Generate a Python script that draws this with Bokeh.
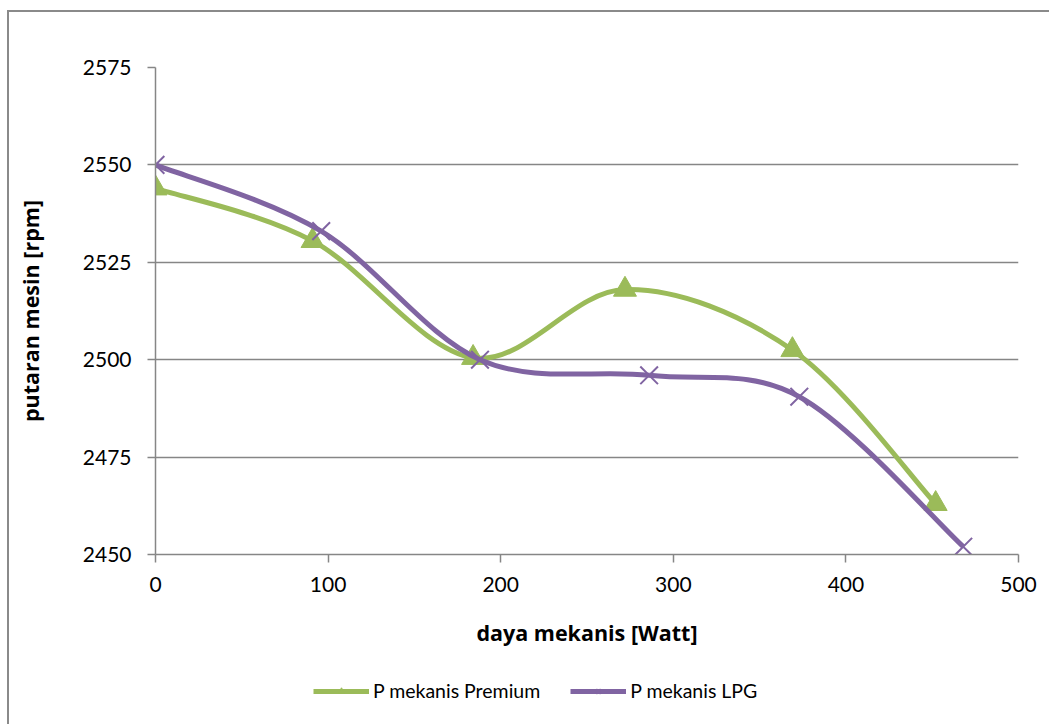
from bokeh.plotting import figure
from bokeh.layouts import column
from bokeh.models import ColumnDataSource, Legend, LegendItem, FixedTicker
from bokeh.embed import file_html
from bokeh.resources import INLINE

# data
premium_x = [0, 91, 184, 272, 369, 452]
premium_y = [2544, 2530.5, 2500.5, 2518, 2502.5, 2463]
lpg_x = [0, 96, 188, 286, 373, 468]
lpg_y = [2550, 2533, 2500, 2496, 2490.5, 2452]

x_ticks = [0, 100, 200, 300, 400, 500]
y_ticks = [2450, 2475, 2500, 2525, 2550, 2575]

GREEN = "#9BBB59"
PURPLE = "#8064A2"
FONT = "Lato"
LABEL_FONT = "Open Sans"


def smooth_segments(xs, ys):
    """Bezier control points (Catmull-Rom style, as spreadsheet smoothed lines)."""
    n = len(xs)
    d = dict(x0=[], y0=[], x1=[], y1=[], cx0=[], cy0=[], cx1=[], cy1=[])
    for i in range(n - 1):
        p0 = (xs[max(i - 1, 0)], ys[max(i - 1, 0)])
        p1 = (xs[i], ys[i])
        p2 = (xs[i + 1], ys[i + 1])
        p3 = (xs[min(i + 2, n - 1)], ys[min(i + 2, n - 1)])
        d["x0"].append(p1[0]); d["y0"].append(p1[1])
        d["x1"].append(p2[0]); d["y1"].append(p2[1])
        d["cx0"].append(p1[0] + (p2[0] - p0[0]) / 6.0)
        d["cy0"].append(p1[1] + (p2[1] - p0[1]) / 6.0)
        d["cx1"].append(p2[0] - (p3[0] - p1[0]) / 6.0)
        d["cy1"].append(p2[1] - (p3[1] - p1[1]) / 6.0)
    return ColumnDataSource(d)


p = figure(frame_width=863, frame_height=487, x_range=(0, 500), y_range=(2450, 2575),
           output_backend="svg", toolbar_location=None,
           min_border_left=146, min_border_right=31, min_border_top=55,
           min_border_bottom=120)
p.outline_line_color = None
p.background_fill_color = "white"
p.border_fill_color = "white"

p.xgrid.grid_line_color = None
p.ygrid.grid_line_color = "#868686"
p.ygrid.grid_line_width = 1.5
p.yaxis.ticker = FixedTicker(ticks=y_ticks)
p.xaxis.ticker = FixedTicker(ticks=x_ticks)

for ax in (p.xaxis[0], p.yaxis[0]):
    ax.axis_line_color = "#868686"
    ax.axis_line_width = 1.5
    ax.major_tick_line_color = "#868686"
    ax.major_tick_line_width = 1.5
    ax.major_tick_out = 8
    ax.major_tick_in = 0
    ax.minor_tick_line_color = None
    ax.major_label_text_font = FONT
    ax.major_label_text_font_size = "21px"
    ax.major_label_text_color = "black"
    ax.axis_label_text_font = LABEL_FONT
    ax.axis_label_text_font_size = "21.5px"
    ax.axis_label_text_font_style = "bold"
    ax.axis_label_text_color = "black"

p.xaxis.axis_label = "daya mekanis [Watt]"
p.yaxis.axis_label = "putaran mesin [rpm]"
p.xaxis.major_label_standoff = 14
p.yaxis.major_label_standoff = 16
p.xaxis.axis_label_standoff = 23
p.yaxis.axis_label_standoff = 35

src_p = smooth_segments(premium_x, premium_y)
src_l = smooth_segments(lpg_x, lpg_y)

p.bezier("x0", "y0", "x1", "y1", "cx0", "cy0", "cx1", "cy1", source=src_p,
         line_color=GREEN, line_width=5)
p.scatter(premium_x, premium_y, marker="triangle", size=23,
          fill_color=GREEN, line_color=GREEN)
p.bezier("x0", "y0", "x1", "y1", "cx0", "cy0", "cx1", "cy1", source=src_l,
         line_color=PURPLE, line_width=5)
p.scatter(lpg_x, lpg_y, marker="x", size=25, line_color=PURPLE, line_width=2)

# legend strip below the chart (its renderers lie outside its own view)
lg = figure(width=1040, height=50, x_range=(-10, -9), y_range=(-10, -9),
            output_backend="svg", toolbar_location=None, min_border=0)
lg.axis.visible = False
lg.grid.grid_line_color = None
lg.outline_line_color = None
lg.border_fill_color = "white"
lp = lg.line(premium_x, premium_y, line_color=GREEN, line_width=5)
ls = lg.scatter(premium_x, premium_y, marker="triangle", size=17,
                fill_color=GREEN, line_color=GREEN)
ll = lg.line(lpg_x, lpg_y, line_color=PURPLE, line_width=5)
lx = lg.scatter(lpg_x, lpg_y, marker="x", size=17, line_color=PURPLE, line_width=2)

legend = Legend(items=[LegendItem(label="P mekanis Premium", renderers=[lp, ls]),
                       LegendItem(label="P mekanis LPG", renderers=[ll, lx])],
                orientation="horizontal", location=(158, 22))
legend.border_line_color = None
legend.background_fill_alpha = 0
legend.label_text_font = FONT
legend.label_text_font_size = "19.5px"
legend.label_text_color = "black"
legend.glyph_width = 56
legend.glyph_height = 16
legend.spacing = 30
legend.label_standoff = 4
legend.padding = 4
legend.margin = 0
lg.add_layout(legend, "center")

layout = column(p, lg, spacing=0)
layout.margin = (10, 0, 0, 7)
layout.styles = {"border-left": "2px solid #8a8a8a", "border-top": "2px solid #8a8a8a"}

open("out.html", "w").write(file_html(layout, INLINE))
